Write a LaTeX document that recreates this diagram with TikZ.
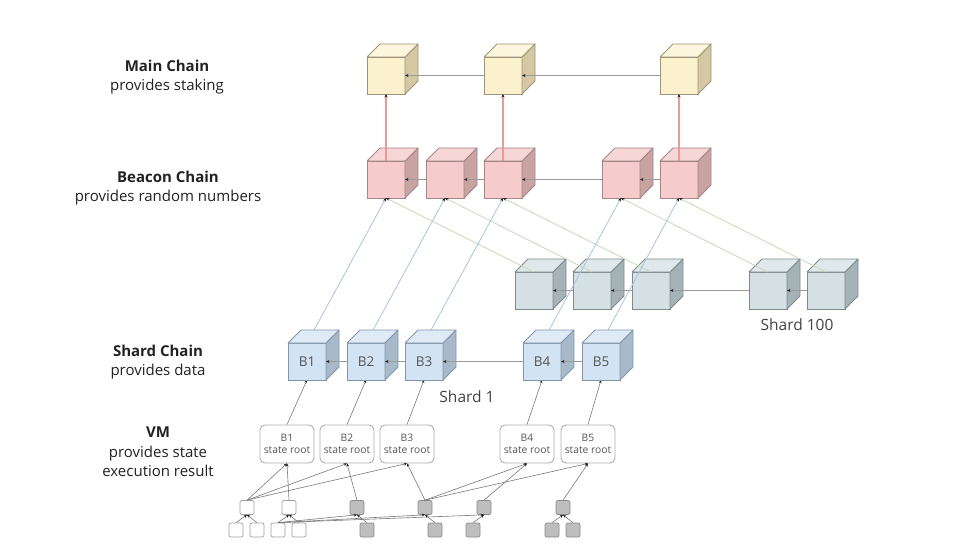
\documentclass[tikz,border=0pt]{standalone}
\usepackage{fontspec}
\setmainfont{Open Sans}
\usetikzlibrary{arrows.meta}
\pgfdeclarelayer{edges}
\pgfdeclarelayer{upper}
\pgfsetlayers{main,edges,upper}

\definecolor{mainFront}{HTML}{FCF1CD}
\definecolor{mainSide}{HTML}{D5C8A2}
\definecolor{mainTop}{HTML}{FDF5DC}
\definecolor{mainStroke}{HTML}{9C9579}
\definecolor{beaFront}{HTML}{F5CBCB}
\definecolor{beaSide}{HTML}{C9A2A2}
\definecolor{beaTop}{HTML}{F7D6D6}
\definecolor{beaStroke}{HTML}{A58686}
\definecolor{hFront}{HTML}{D4E0E3}
\definecolor{hSide}{HTML}{A6B3B6}
\definecolor{hTop}{HTML}{DFE8EA}
\definecolor{hStroke}{HTML}{80898C}
\definecolor{sFront}{HTML}{D2E3F4}
\definecolor{sSide}{HTML}{A8B9CA}
\definecolor{sTop}{HTML}{DEEAF6}
\definecolor{sStroke}{HTML}{8397AA}
\definecolor{chainline}{HTML}{9A9A9A}
\definecolor{redline}{HTML}{E89A9A}
\definecolor{blueline}{HTML}{A8C6DC}
\definecolor{greenline}{HTML}{C8D8BE}
\definecolor{tipdark}{HTML}{222222}
\definecolor{txtdark}{HTML}{222222}
\definecolor{txtgray}{HTML}{555555}
\definecolor{boxgray}{HTML}{ADADAD}
\definecolor{sqgray}{HTML}{BEBEBE}
\definecolor{sqstroke}{HTML}{8A8A8A}
\definecolor{botline}{HTML}{7A7A7A}

\tikzset{
  cubefront/.style={minimum width=38pt, minimum height=37pt, inner sep=0pt, outer sep=0pt,
    line width=0.8pt, font=\fontsize{13.5}{15}\selectfont, text=txtgray},
  cubeface/.style={line width=0.8pt, line join=round},
  lbl/.style={align=center, text=txtdark, font=\fontsize{15}{19.5}\selectfont},
  shardlbl/.style={text=txtdark!85, font=\fontsize{15.5}{18}\selectfont},
  sroot/.style={draw=boxgray, line width=0.9pt, rounded corners=5pt, minimum width=54pt,
    minimum height=38pt, inner sep=0pt, align=center, text=txtgray,
    font=\fontsize{10.3}{12.5}\selectfont},
  sqwhite/.style={draw=sqstroke!80, fill=white, line width=0.7pt, rounded corners=2pt,
    minimum size=14pt, inner sep=0pt},
  sqgrey/.style={draw=sqstroke, fill=sqgray, line width=0.7pt, rounded corners=2pt,
    minimum size=14pt, inner sep=0pt},
  tipS/.style={-{Stealth[length=3.5pt,width=3pt,color=tipdark]}},
  chainarrow/.style={tipS, draw=chainline, line width=0.9pt},
  redarrow/.style={tipS, draw=redline, line width=1.1pt},
  bluearrow/.style={tipS, draw=blueline, line width=0.8pt},
  greenarrow/.style={tipS, draw=greenline, line width=0.8pt},
  botarrow/.style={-{Stealth[length=3.2pt,width=2.8pt,color=tipdark]}, draw=botline, line width=0.6pt},
}

% name, x, y (front top-left), stroke, front, side, top, label
\newcommand{\mkcube}[8]{%
  \node[cubefront, draw=#4, fill=#5] (#1) at ({#2+19},{#3+18.5}) {#8};
  \filldraw[cubeface, draw=#4, fill=#6] (#1.north east) -- ++(13,-13) -- ++(0,37) -- (#1.south east) -- cycle;
  \filldraw[cubeface, draw=#4, fill=#7] (#1.north west) -- ++(13,-13) -- ++(38,0) -- (#1.north east) -- cycle;
}

\begin{document}
\begin{tikzpicture}[x=1pt, y=-1pt]
\useasboundingbox (0,0) rectangle (960,556);
\fill[white] (0,0) rectangle (960,556);

% left labels
\node[lbl] (lmain) at (167,77) {\textbf{Main Chain}\\provides staking};
\node[lbl] (lbeacon) at (168,188) {\textbf{Beacon Chain}\\provides random numbers};
\node[lbl] (lshard) at (158,362) {\textbf{Shard Chain}\\provides data};
\node[lbl] (lvm) at (158,452) {\textbf{VM}\\provides state\\execution result};

% main chain
\mkcube{m1}{367}{57}{mainStroke}{mainFront}{mainSide}{mainTop}{}
\mkcube{m2}{484}{57}{mainStroke}{mainFront}{mainSide}{mainTop}{}
\mkcube{m3}{660}{57}{mainStroke}{mainFront}{mainSide}{mainTop}{}
\draw[chainarrow] (m2.west) -- (m1.east);
\draw[chainarrow] (m3.west) -- (m2.east);

% beacon chain
\mkcube{b1}{367}{161}{beaStroke}{beaFront}{beaSide}{beaTop}{}
\mkcube{b2}{426}{161}{beaStroke}{beaFront}{beaSide}{beaTop}{}
\mkcube{b3}{484}{161}{beaStroke}{beaFront}{beaSide}{beaTop}{}
\mkcube{b4}{602}{161}{beaStroke}{beaFront}{beaSide}{beaTop}{}
\mkcube{b5}{660}{161}{beaStroke}{beaFront}{beaSide}{beaTop}{}
\draw[chainarrow] (b2.west) -- (b1.east);
\draw[chainarrow] (b3.west) -- (b2.east);
\draw[chainarrow] (b4.west) -- (b3.east);
\draw[chainarrow] (b5.west) -- (b4.east);

% shard 100
\mkcube{h1}{515}{272}{hStroke}{hFront}{hSide}{hTop}{}
\mkcube{h2}{573}{272}{hStroke}{hFront}{hSide}{hTop}{}
\mkcube{h3}{632}{272}{hStroke}{hFront}{hSide}{hTop}{}
\mkcube{h4}{749}{272}{hStroke}{hFront}{hSide}{hTop}{}
\mkcube{h5}{807}{272}{hStroke}{hFront}{hSide}{hTop}{}
\draw[chainarrow] (h2.west) -- (h1.east);
\draw[chainarrow] (h3.west) -- (h2.east);
\draw[chainarrow] (h4.west) -- (h3.east);
\draw[chainarrow] (h5.west) -- (h4.east);
\node[shardlbl] (l100) at (797,325) {Shard 100};

% shard 1 (upper layer)
\begin{pgfonlayer}{upper}
\mkcube{s1}{288}{343}{sStroke}{sFront}{sSide}{sTop}{B1}
\mkcube{s2}{347}{343}{sStroke}{sFront}{sSide}{sTop}{B2}
\mkcube{s3}{405}{343}{sStroke}{sFront}{sSide}{sTop}{B3}
\mkcube{s4}{523}{343}{sStroke}{sFront}{sSide}{sTop}{B4}
\mkcube{s5}{582}{343}{sStroke}{sFront}{sSide}{sTop}{B5}
\draw[chainarrow] (s2.west) -- (s1.east);
\draw[chainarrow] (s3.west) -- (s2.east);
\draw[chainarrow] (s4.west) -- (s3.east);
\draw[chainarrow] (s5.west) -- (s4.east);
\end{pgfonlayer}
\node[shardlbl] (l1) at (467,397) {Shard 1};

% cross-chain edges
\begin{pgfonlayer}{edges}
\draw[redarrow] (b1.north) -- (m1.south);
\draw[redarrow] (b3.north) -- (m2.south);
\draw[redarrow] (b5.north) -- (m3.south);
\draw[greenarrow] (h1.north) -- (b1.south);
\draw[greenarrow] (h2.north) -- (b2.south);
\draw[greenarrow] (h3.north) -- (b3.south);
\draw[greenarrow] (h4.north) -- (b4.south);
\draw[greenarrow] (h5.north) -- (b5.south);
\draw[bluearrow] (s1.north) -- (b1.south);
\draw[bluearrow] (s2.north) -- (b2.south);
\draw[bluearrow] (s3.north) -- (b3.south);
\draw[bluearrow] (s4.north) -- (b4.south);
\draw[bluearrow] (s5.north) -- (b5.south);
\end{pgfonlayer}

% state roots
\node[sroot] (r1) at (287,444) {B1\\state root};
\node[sroot] (r2) at (347,444) {B2\\state root};
\node[sroot] (r3) at (407,444) {B3\\state root};
\node[sroot] (r4) at (527,444) {B4\\state root};
\node[sroot] (r5) at (588,444) {B5\\state root};
\foreach \i in {1,...,5} \draw[botarrow] (r\i.north) -- (s\i.south);

% small boxes row 1
\node[sqwhite] (w1) at (247,507.5) {};
\node[sqwhite] (w2) at (289,507.5) {};
\node[sqgrey] (g1) at (357,507.5) {};
\node[sqgrey] (g2) at (425,507.5) {};
\node[sqgrey] (g3) at (484,507.5) {};
\node[sqgrey] (g4) at (563,507.5) {};
% row 2
\node[sqwhite] (wa) at (236,530) {};
\node[sqwhite] (wb) at (257,530) {};
\node[sqwhite] (wc) at (278,530) {};
\node[sqwhite] (wd) at (299,530) {};
\node[sqgrey] (ga) at (367,530) {};
\node[sqgrey] (gb) at (435,530) {};
\node[sqgrey] (gc) at (473,530) {};
\node[sqgrey] (gd) at (552,530) {};
\node[sqgrey] (ge) at (573,530) {};

% row 1 -> state roots
\draw[botarrow] (w1.north) -- (r1.south);
\draw[botarrow] (w1.north) -- (r2.south);
\draw[botarrow] (w1.north) -- (r3.south);
\draw[botarrow] (w2.north) -- (r1.south);
\draw[botarrow] (g1.north) -- (r2.south);
\draw[botarrow] (g2.north) -- (r3.south);
\draw[botarrow] (g2.north) -- (r4.south);
\draw[botarrow] (g2.north) -- (r5.south);
\draw[botarrow] (g3.north) -- (r4.south);
\draw[botarrow] (g4.north) -- (r5.south);

% row 2 -> row 1
\draw[botarrow] (wa.north) -- (w1.south);
\draw[botarrow] (wb.north) -- (w1.south);
\draw[botarrow] (wc.north) -- (w2.south);
\draw[botarrow] (wd.north) -- (w2.south);
\draw[botarrow] (wc.north) -- (g1.south);
\draw[botarrow] (wc.north) -- (g2.south);
\draw[botarrow] (wc.north) -- (g3.south);
\draw[botarrow] (ga.north) -- (g1.south);
\draw[botarrow] (gb.north) -- (g2.south);
\draw[botarrow] (gc.north) -- (g3.south);
\draw[botarrow] (gd.north) -- (g4.south);
\draw[botarrow] (ge.north) -- (g4.south);
\end{tikzpicture}
\end{document}
